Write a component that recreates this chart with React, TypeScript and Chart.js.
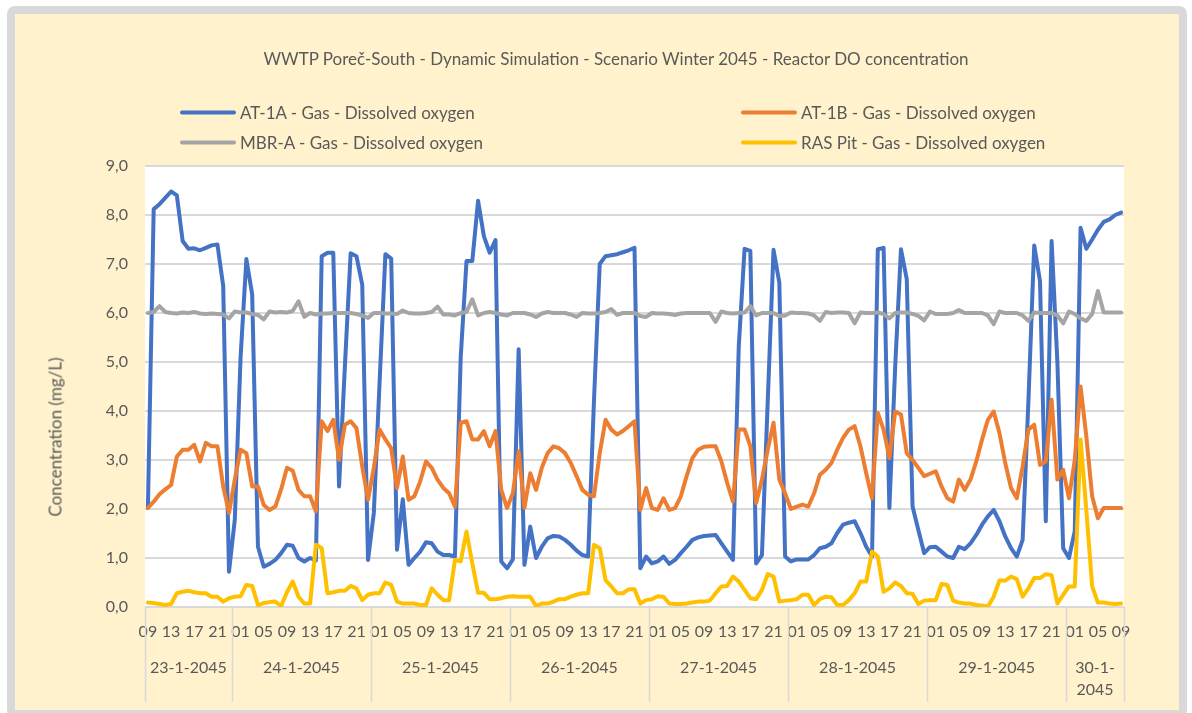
import React, { useEffect, useRef } from 'react';
import { Chart, registerables } from 'chart.js';

Chart.register(...registerables);

// ---------------- data ----------------
const TITLE = 'WWTP Poreč-South - Dynamic Simulation - Scenario Winter 2045 - Reactor DO concentration';
const Y_TITLE = 'Concentration (mg/L)';

const dayLabels = ['23-1-2045', '24-1-2045', '25-1-2045', '26-1-2045', '27-1-2045', '28-1-2045', '29-1-2045', '30-1-2045'];
const firstHour = 9; // first category: 23-1-2045 09:00
const hoursPerDay = [15, 24, 24, 24, 24, 24, 24, 10];

const seriesNames = [
  'AT-1A - Gas - Dissolved oxygen',
  'AT-1B - Gas - Dissolved oxygen',
  'MBR-A - Gas - Dissolved oxygen',
  'RAS Pit - Gas - Dissolved oxygen',
];
const seriesColors = ['#4472C4', '#ED7D31', '#A5A5A5', '#FFC000'];

const at1a = [
  2.02, 8.12, 8.22, 8.35, 8.48, 8.4, 7.47, 7.31, 7.32, 7.28, 7.33, 7.38, 7.4, 6.55, 0.72, 1.78, 5.1, 7.1, 6.38, 1.23,
  0.82, 0.88, 0.96, 1.1, 1.27, 1.25, 1.0, 0.93, 1.0, 0.95, 7.16, 7.23, 7.23, 2.46, 4.9, 7.22, 7.16, 6.58, 0.96, 1.92,
  4.6, 7.2, 7.11, 1.17, 2.2, 0.86, 1.0, 1.13, 1.32, 1.3, 1.13, 1.06, 1.06, 1.03, 5.1, 7.06, 7.06, 8.29, 7.57, 7.23,
  7.49, 0.93, 0.79, 0.97, 5.26, 0.86, 1.64, 1.0, 1.23, 1.4, 1.45, 1.44, 1.37, 1.27, 1.15, 1.06, 1.03, 4.2, 7.0, 7.16,
  7.18, 7.2, 7.24, 7.28, 7.33, 0.79, 1.03, 0.89, 0.93, 1.03, 0.88, 0.96, 1.1, 1.23, 1.37, 1.42, 1.45, 1.46, 1.47, 1.3,
  1.13, 0.96, 5.32, 7.31, 7.27, 0.89, 1.06, 4.2, 7.29, 6.62, 1.03, 0.93, 0.97, 0.97, 0.97, 1.06, 1.2, 1.23, 1.3, 1.51,
  1.68, 1.72, 1.75, 1.51, 1.23, 1.03, 7.3, 7.33, 2.02, 4.9, 7.3, 6.69, 2.05, 1.57, 1.1, 1.22, 1.23, 1.13, 1.03, 1.0,
  1.23, 1.18, 1.3, 1.47, 1.68, 1.85, 1.98, 1.75, 1.44, 1.2, 1.03, 1.37, 4.2, 7.38, 6.65, 1.75, 7.47, 5.0, 1.2, 1.0,
  1.55, 7.74, 7.31, 7.5, 7.7, 7.86, 7.91, 8.0, 8.05,
];

const at1b = [
  2.02, 2.15, 2.3, 2.4, 2.49, 3.07, 3.21, 3.21, 3.31, 2.97, 3.35, 3.28, 3.28, 2.46, 1.92, 2.6, 3.21, 3.14, 2.46, 2.46,
  2.08, 1.98, 2.05, 2.4, 2.84, 2.78, 2.39, 2.26, 2.26, 1.95, 3.79, 3.59, 3.82, 3.0, 3.72, 3.79, 3.65, 2.87, 2.19, 2.84,
  3.62, 3.42, 3.24, 2.43, 3.07, 2.19, 2.26, 2.56, 2.97, 2.84, 2.6, 2.43, 2.32, 2.05, 3.76, 3.79, 3.42, 3.42, 3.59, 3.28,
  3.59, 2.39, 2.02, 2.32, 3.18, 2.02, 2.73, 2.39, 2.84, 3.14, 3.28, 3.24, 3.14, 2.94, 2.67, 2.39, 2.29, 2.26, 3.14, 3.82,
  3.62, 3.52, 3.59, 3.69, 3.79, 1.98, 2.43, 2.02, 1.98, 2.22, 1.98, 2.02, 2.26, 2.67, 3.04, 3.21, 3.27, 3.28, 3.28, 2.97,
  2.53, 2.15, 3.62, 3.62, 3.28, 2.12, 2.6, 3.21, 3.76, 2.6, 2.32, 2.0, 2.05, 2.09, 2.05, 2.32, 2.7, 2.8, 2.94, 3.21,
  3.45, 3.62, 3.69, 3.28, 2.73, 2.22, 3.96, 3.62, 3.04, 3.99, 3.93, 3.14, 3.0, 2.84, 2.67, 2.72, 2.77, 2.46, 2.22, 2.15,
  2.6, 2.39, 2.6, 2.97, 3.42, 3.82, 3.99, 3.55, 2.94, 2.43, 2.22, 2.87, 3.62, 3.72, 2.9, 2.97, 4.23, 2.6, 2.8, 2.22,
  3.0, 4.5, 3.48, 2.26, 1.81, 2.02, 2.02, 2.02, 2.02,
];

const mbrA = [
  6.0, 6.02, 6.14, 6.02, 6.0, 5.99, 6.01, 6.0, 6.02, 5.99, 5.98, 5.99, 5.98, 5.97, 5.89, 6.03, 6.01, 6.01, 5.98, 5.96,
  5.87, 6.03, 6.01, 6.02, 6.01, 6.04, 6.24, 5.92, 6.0, 5.97, 5.99, 5.99, 6.0, 6.0, 6.0, 6.0, 5.98, 5.95, 5.9, 6.0,
  6.0, 5.99, 5.99, 5.98, 6.05, 6.0, 5.99, 5.99, 6.0, 6.02, 6.13, 5.97, 5.97, 5.95, 6.0, 6.02, 6.28, 5.95, 6.0, 6.02,
  6.0, 5.97, 5.95, 6.0, 6.0, 6.0, 5.97, 5.92, 5.99, 6.02, 6.0, 6.0, 6.0, 5.97, 5.92, 6.0, 5.99, 5.99, 6.0, 6.02,
  6.08, 5.96, 6.0, 6.0, 6.0, 5.94, 5.92, 6.0, 5.99, 5.99, 5.98, 5.96, 5.99, 6.0, 6.0, 6.0, 6.0, 6.0, 5.82, 6.03,
  6.0, 5.99, 6.0, 6.01, 6.14, 5.95, 6.0, 6.0, 6.0, 5.94, 5.95, 6.01, 6.0, 6.0, 5.99, 5.95, 5.84, 6.02, 6.0, 6.01,
  6.01, 6.0, 5.79, 6.01, 6.0, 6.0, 6.01, 5.98, 5.89, 6.0, 6.01, 6.01, 5.98, 5.94, 5.85, 6.03, 5.98, 5.98, 5.98, 6.0,
  6.06, 6.0, 6.0, 6.0, 6.0, 5.95, 5.77, 6.03, 6.0, 6.0, 6.0, 5.95, 5.84, 6.01, 6.0, 6.0, 6.0, 5.95, 5.79, 6.03,
  5.98, 5.89, 5.84, 5.98, 6.45, 6.01, 6.01, 6.01, 6.01,
];

const rasPit = [
  0.09, 0.08, 0.06, 0.04, 0.06, 0.28, 0.31, 0.33, 0.3, 0.28, 0.28, 0.21, 0.21, 0.11, 0.18, 0.21, 0.22, 0.45, 0.43, 0.04,
  0.08, 0.1, 0.11, 0.02, 0.3, 0.52, 0.21, 0.07, 0.07, 1.27, 1.2, 0.28, 0.3, 0.33, 0.33, 0.43, 0.38, 0.14, 0.25, 0.28,
  0.28, 0.5, 0.45, 0.11, 0.07, 0.07, 0.07, 0.04, 0.04, 0.38, 0.25, 0.14, 0.14, 0.96, 0.93, 1.54, 0.89, 0.29, 0.29, 0.16,
  0.16, 0.18, 0.21, 0.22, 0.21, 0.21, 0.21, 0.02, 0.07, 0.07, 0.11, 0.16, 0.16, 0.21, 0.25, 0.28, 0.28, 1.27, 1.2, 0.55,
  0.42, 0.28, 0.28, 0.36, 0.36, 0.07, 0.14, 0.16, 0.22, 0.21, 0.07, 0.06, 0.06, 0.07, 0.09, 0.11, 0.11, 0.13, 0.28, 0.42,
  0.43, 0.62, 0.52, 0.35, 0.18, 0.16, 0.35, 0.67, 0.62, 0.11, 0.13, 0.14, 0.16, 0.25, 0.25, 0.04, 0.16, 0.21, 0.2, 0.04,
  0.04, 0.14, 0.28, 0.52, 0.52, 1.13, 1.03, 0.31, 0.38, 0.5, 0.43, 0.28, 0.27, 0.06, 0.13, 0.14, 0.14, 0.47, 0.45, 0.13,
  0.09, 0.07, 0.07, 0.04, 0.03, 0.01, 0.21, 0.54, 0.54, 0.62, 0.57, 0.21, 0.38, 0.59, 0.59, 0.67, 0.65, 0.07, 0.25, 0.42,
  0.42, 3.42, 1.98, 0.42, 0.09, 0.09, 0.07, 0.06, 0.07,
];

const seriesValues = [at1a, at1b, mbrA, rasPit];

// hour-of-day category labels (one per hourly sample)
const hourLabels: string[] = [];
hoursPerDay.forEach((n, d) => {
  const start = d === 0 ? firstHour : 0;
  for (let h = 0; h < n; h++) {
    hourLabels.push(String(start + h).padStart(2, '0'));
  }
});

// ---------------- style ----------------
const FONT = 'Lato, "Open Sans", sans-serif';
const TEXT = '#595959';
const GRID = '#d9d9d9';

const plotBgPlugin = {
  id: 'plotBg',
  beforeDraw(chart: any) {
    const { ctx, chartArea: a } = chart;
    ctx.save();
    ctx.fillStyle = '#ffffff';
    ctx.fillRect(a.left, a.top, a.right - a.left, a.bottom - a.top);
    ctx.restore();
  },
};

const dayAxisPlugin = {
  id: 'dayAxis',
  afterDraw(chart: any) {
    const { ctx, chartArea: a } = chart;
    const xs = chart.scales.x;
    const n = hourLabels.length;
    const slot = (xs.right - xs.left) / n;
    const edge = (i: number) => (i >= n ? xs.right : xs.getPixelForValue(i) - slot / 2);
    ctx.save();
    ctx.strokeStyle = GRID;
    ctx.lineWidth = 1.5;
    const bounds: number[] = [0];
    let acc = 0;
    hoursPerDay.forEach((c) => { acc += c; bounds.push(acc); });
    bounds.forEach((b) => {
      const x = Math.round(edge(b)) + 0.5;
      ctx.beginPath();
      ctx.moveTo(x, a.bottom);
      ctx.lineTo(x, 702);
      ctx.stroke();
    });
    ctx.fillStyle = TEXT;
    ctx.font = `16px ${FONT}`;
    ctx.textAlign = 'center';
    ctx.textBaseline = 'middle';
    dayLabels.forEach((lbl, d) => {
      const x0 = edge(bounds[d]);
      const x1 = edge(bounds[d + 1]);
      const cx = (x0 + x1) / 2;
      const w = ctx.measureText(lbl).width;
      if (w > x1 - x0 - 4) {
        const k = lbl.lastIndexOf('-') + 1;
        ctx.fillText(lbl.slice(0, k), cx, 668);
        ctx.fillText(lbl.slice(k), cx, 690);
      } else {
        ctx.fillText(lbl, cx, 668);
      }
    });
    ctx.restore();
  },
};

export default function App() {
  const ref = useRef<HTMLCanvasElement | null>(null);

  useEffect(() => {
    if (!ref.current) return;
    const chart = new Chart(ref.current, {
      type: 'line',
      data: {
        labels: hourLabels,
        datasets: seriesNames.map((name, k) => ({
          label: name,
          data: seriesValues[k],
          borderColor: seriesColors[k],
          backgroundColor: seriesColors[k],
          borderWidth: 4,
          pointRadius: 0,
          tension: 0,
          fill: false,
          borderCapStyle: 'round',
          borderJoinStyle: 'round',
          order: 4 - k,
        })),
      },
      options: {
        responsive: false,
        maintainAspectRatio: false,
        animation: false,
        layout: { padding: { left: 0, right: 68, top: 166, bottom: 0 } },
        plugins: {
          legend: { display: false },
          title: { display: false },
          tooltip: { enabled: false },
        },
        scales: {
          x: {
            type: 'category',
            offset: true,
            grid: { display: false, drawTicks: false },
            border: { display: false },
            ticks: {
              autoSkip: false,
              maxRotation: 0,
              minRotation: 0,
              padding: 15,
              color: TEXT,
              font: { family: FONT, size: 16 },
              callback: (_v: any, i: number) => (i % 4 === 0 ? hourLabels[i] : ''),
            },
            afterFit: (s: any) => { s.height = 106; },
          },
          y: {
            min: 0,
            max: 9,
            grid: { color: GRID, lineWidth: 2, drawTicks: false },
            border: { display: false },
            ticks: {
              stepSize: 1,
              padding: 17,
              color: TEXT,
              font: { family: FONT, size: 16 },
              callback: (v: any) => Number(v).toFixed(1).replace('.', ','),
            },
            afterFit: (s: any) => { s.width = 145; },
          },
        },
      } as any,
      plugins: [plotBgPlugin, dayAxisPlugin],
    });
    return () => chart.destroy();
  }, []);

  const legendPos = [
    { x: 180, y: 112 },
    { x: 741, y: 112 },
    { x: 180, y: 142 },
    { x: 741, y: 142 },
  ];

  return (
    <div style={{ position: 'fixed', left: 0, top: 0, width: 1192, height: 713, background: '#ffffff', overflow: 'hidden', fontFamily: FONT }}>
      <div style={{ position: 'absolute', left: 7, top: 6, width: 1180, height: 712, boxSizing: 'border-box', border: '8px solid #d9d9d9', borderRadius: 8, background: '#fff2cc' }} />
      <canvas ref={ref} width={1192} height={713} style={{ position: 'absolute', left: 0, top: 0, width: 1192, height: 713 }} />
      <div style={{ position: 'absolute', left: 616, top: 58, transform: 'translate(-50%, -50%)', whiteSpace: 'nowrap', color: TEXT, fontSize: 17 }}>{TITLE}</div>
      {seriesNames.map((name, k) => (
        <div key={name} style={{ position: 'absolute', left: legendPos[k].x, top: legendPos[k].y, transform: 'translateY(-50%)', display: 'flex', alignItems: 'center', whiteSpace: 'nowrap', color: TEXT, fontSize: 17 }}>
          <span style={{ display: 'inline-block', width: 56, height: 4, borderRadius: 2, background: seriesColors[k], marginRight: 4 }} />
          <span>{name}</span>
        </div>
      ))}
      <div style={{ position: 'absolute', left: 55, top: 437, transform: 'translate(-50%, -50%) rotate(-90deg)', whiteSpace: 'nowrap', color: TEXT, fontSize: 17 }}>{Y_TITLE}</div>
    </div>
  );
}
